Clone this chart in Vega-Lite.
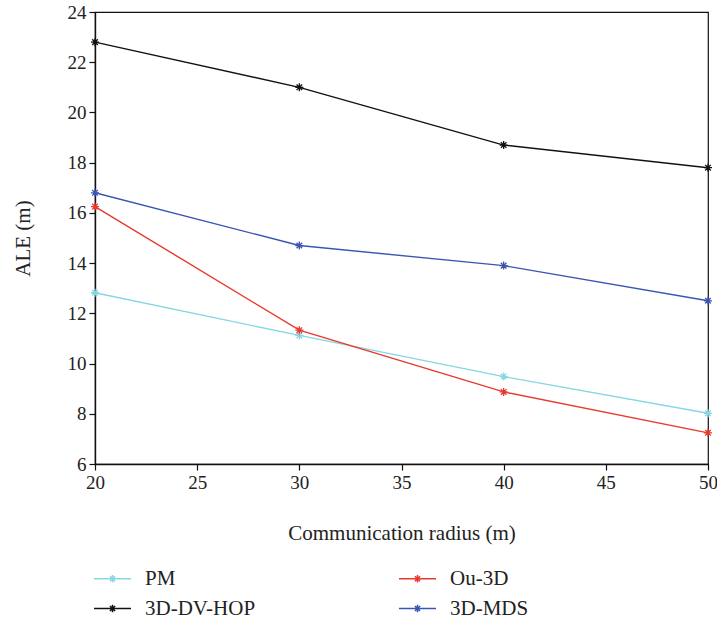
{
  "$schema": "https://vega.github.io/schema/vega-lite/v6.json",
  "width": 613,
  "height": 452,
  "autosize": {"type": "none"},
  "padding": {"left": 95, "top": 12, "right": 9, "bottom": 154},
  "background": "white",
  "data": {
    "values": [
      {"radius": 20, "ale": 12.82, "method": "PM"},
      {"radius": 30, "ale": 11.12, "method": "PM"},
      {"radius": 40, "ale": 9.48, "method": "PM"},
      {"radius": 50, "ale": 8.02, "method": "PM"},
      {"radius": 20, "ale": 22.8, "method": "3D-DV-HOP"},
      {"radius": 30, "ale": 21.0, "method": "3D-DV-HOP"},
      {"radius": 40, "ale": 18.7, "method": "3D-DV-HOP"},
      {"radius": 50, "ale": 17.8, "method": "3D-DV-HOP"},
      {"radius": 20, "ale": 16.25, "method": "Ou-3D"},
      {"radius": 30, "ale": 11.33, "method": "Ou-3D"},
      {"radius": 40, "ale": 8.87, "method": "Ou-3D"},
      {"radius": 50, "ale": 7.24, "method": "Ou-3D"},
      {"radius": 20, "ale": 16.8, "method": "3D-MDS"},
      {"radius": 30, "ale": 14.7, "method": "3D-MDS"},
      {"radius": 40, "ale": 13.9, "method": "3D-MDS"},
      {"radius": 50, "ale": 12.5, "method": "3D-MDS"}
    ]
  },
  "encoding": {
    "x": {
      "field": "radius",
      "type": "quantitative",
      "scale": {"domain": [20, 50], "nice": false, "zero": false},
      "axis": {
        "title": "Communication radius (m)",
        "values": [20, 25, 30, 35, 40, 45, 50],
        "titlePadding": 30
      }
    },
    "y": {
      "field": "ale",
      "type": "quantitative",
      "scale": {"domain": [6, 24], "nice": false, "zero": false},
      "axis": {
        "title": "ALE (m)",
        "values": [6, 8, 10, 12, 14, 16, 18, 20, 22, 24],
        "titlePadding": 34
      }
    },
    "color": {
      "field": "method",
      "type": "nominal",
      "sort": ["PM", "3D-DV-HOP", "Ou-3D", "3D-MDS"],
      "scale": {
        "domain": ["PM", "3D-DV-HOP", "Ou-3D", "3D-MDS"],
        "range": ["#86d6e4", "#111111", "#e8392d", "#3a56b2"]
      },
      "legend": {
        "title": null,
        "orient": "none",
        "legendX": -2,
        "legendY": 547,
        "columns": 2,
        "columnPadding": 140,
        "rowPadding": -12,
        "symbolType": "M-1,0L1,0M0,-0.2L0,0.2M-0.2,0L0.2,0M-0.14,-0.14L0.14,0.14M-0.14,0.14L0.14,-0.14",
        "symbolSize": 1369,
        "symbolStrokeWidth": 1.5,
        "symbolFillColor": "transparent",
        "labelOffset": 13,
        "labelFontSize": 21,
        "labelFont": "Liberation Serif",
        "labelColor": "#222"
      }
    }
  },
  "layer": [
    {
      "mark": {"type": "line", "strokeWidth": 1.4}
    },
    {
      "mark": {
        "type": "point",
        "filled": false,
        "shape": "M0,-1L0,1M-1,0L1,0M-0.7,-0.7L0.7,0.7M-0.7,0.7L0.7,-0.7",
        "size": 64,
        "strokeWidth": 1.3,
        "opacity": 1
      }
    }
  ],
  "config": {
    "view": {"stroke": "#111", "strokeWidth": 1.2},
    "axis": {
      "grid": false,
      "labelFlush": false,
      "domainColor": "#111",
      "domainWidth": 1.4,
      "tickColor": "#111",
      "tickSize": 6,
      "tickWidth": 1.2,
      "labelFont": "Liberation Serif",
      "labelFontSize": 19,
      "labelColor": "#222",
      "labelPadding": 3,
      "titleFont": "Liberation Serif",
      "titleFontSize": 21,
      "titleFontWeight": "normal",
      "titleColor": "#222"
    }
  }
}
